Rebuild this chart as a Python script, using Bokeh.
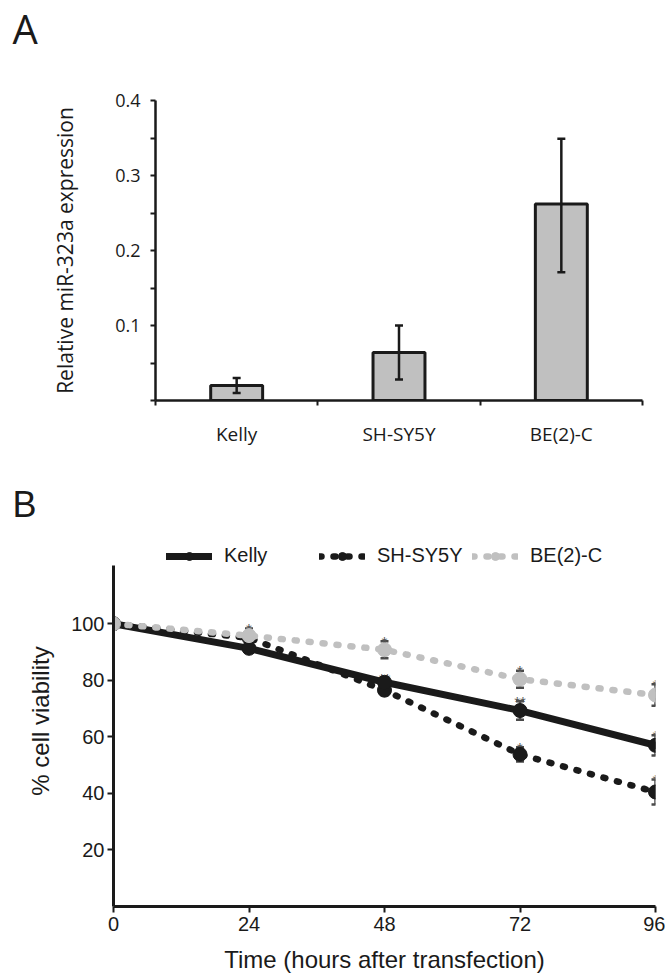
import numpy as np
from bokeh.plotting import figure
from bokeh.models import FixedTicker, Legend, LegendItem, Range1d, Title
from bokeh.embed import file_html
from bokeh.resources import INLINE
from bokeh.core.properties import value

# ---------------- Panel A data ----------------
cell_lines = ["Kelly", "SH-SY5Y", "BE(2)-C"]
expr_mean = [0.020, 0.064, 0.262]
expr_low = [0.010, 0.028, 0.171]
expr_high = [0.030, 0.100, 0.349]
expr_ticks = [0.1, 0.2, 0.3, 0.4]
expr_minor = [0.0, 0.05, 0.15, 0.25, 0.35]

# ---------------- Panel B data ----------------
hours = [0, 24, 48, 72, 96]
kelly_via = [100, 91.3, 79.3, 69.3, 57.0]
kelly_err = [0, 1.0, 1.5, 3.3, 3.6]
kelly_sig = ["", "", "**", "**", "*"]
sh_via = [100, 95.0, 76.5, 53.8, 40.5]
sh_err = [0, 1.0, 1.8, 2.5, 4.4]
sh_sig = ["", "", "", "*", "*"]
be_via = [100, 95.8, 90.8, 80.4, 74.8]
be_err = [0, 2.5, 3.0, 3.0, 3.8]
be_sig = ["", "*", "*", "*", "*"]
via_ticks = [20, 40, 60, 80, 100]
hour_ticks = [0, 24, 48, 72, 96]
via_axis_top = 120.6

INK = "#1a1a1a"
GREY = "#c0c0c0"
ERR = "#4a4a4a"
FA = "Open Sans"
FB = "Liberation Sans"

# ================= Panel A =================
pos = [i + 0.5 for i in range(len(cell_lines))]
bounds = [float(i) for i in range(len(cell_lines) + 1)]

pA = figure(width=665, height=470, x_range=Range1d(0, len(cell_lines)), y_range=Range1d(0, 0.4),
            output_backend="svg", toolbar_location=None,
            min_border_left=155, min_border_right=23, min_border_top=100, min_border_bottom=70)
pA.outline_line_color = None
pA.xgrid.visible = False
pA.ygrid.visible = False
# panel letter (outer) + spacer title next to the frame
pA.title.text = "A"
pA.title.align = "left"
pA.title.vertical_align = "top"
pA.title.offset = -143
pA.title.standoff = 0
pA.title.text_font = FA
pA.title.text_font_size = "40px"
pA.title.text_font_style = "normal"
pA.title.text_color = INK
pA.add_layout(Title(text=" ", text_font_size="13px", standoff=26), "above")

pA.vbar(x=pos, top=expr_mean, width=0.32, fill_color=GREY, line_color=INK, line_width=3)
pA.segment(x0=pos, y0=expr_low, x1=pos, y1=expr_high, line_color=INK, line_width=2.5)
pA.scatter(x=pos, y=expr_low, marker="dash", size=8, line_color=INK, line_width=2.5)
pA.scatter(x=pos, y=expr_high, marker="dash", size=8, line_color=INK, line_width=2.5)

xa = pA.xaxis[0]
xa.ticker = FixedTicker(ticks=pos, minor_ticks=bounds)
xa.major_label_overrides = {p: c for p, c in zip(pos, cell_lines)}
xa.major_tick_line_color = None
xa.minor_tick_in = 0
xa.minor_tick_out = 5
xa.minor_tick_line_width = 2
xa.minor_tick_line_color = INK
xa.axis_line_width = 2.5
xa.axis_line_color = INK
xa.major_label_text_font = FA
xa.major_label_text_font_size = "19px"
xa.major_label_text_color = INK
xa.major_label_standoff = 14

ya = pA.yaxis[0]
ya.ticker = FixedTicker(ticks=expr_ticks, minor_ticks=expr_minor)
ya.major_tick_in = 0
ya.major_tick_out = 5
ya.minor_tick_in = 0
ya.minor_tick_out = 5
ya.major_tick_line_width = 2
ya.minor_tick_line_width = 2
ya.major_tick_line_color = INK
ya.minor_tick_line_color = INK
ya.axis_line_width = 2.5
ya.axis_line_color = INK
ya.major_label_text_font = FA
ya.major_label_text_font_size = "18px"
ya.major_label_text_color = INK
ya.major_label_standoff = 10
ya.axis_label = "Relative miR-323a expression"
ya.axis_label_text_font = FA
ya.axis_label_text_font_size = "21px"
ya.axis_label_text_font_style = "normal"
ya.axis_label_text_color = INK
ya.axis_label_standoff = 33

# ================= Panel B =================
pB = figure(width=665, height=509, x_range=Range1d(0, 96), y_range=Range1d(0, 131.2),
            output_backend="svg", toolbar_location=None,
            min_border_left=113, min_border_right=10, min_border_top=65, min_border_bottom=73)
pB.outline_line_color = None
pB.xgrid.visible = False
pB.ygrid.visible = False
pB.title.text = "B"
pB.title.align = "left"
pB.title.offset = -101
pB.title.standoff = 21
pB.title.text_font = FB
pB.title.text_font_size = "36px"
pB.title.text_font_style = "normal"
pB.title.text_color = INK

series = [
    (sh_via, sh_err, sh_sig, INK, "2 12", "SH-SY5Y"),
    (kelly_via, kelly_err, kelly_sig, INK, "solid", "Kelly"),
    (be_via, be_err, be_sig, GREY, "2 12", "BE(2)-C"),
]

for via, err, sig, col, dash, name in series:
    lo = [v - e for v, e in zip(via, err)]
    hi = [v + e for v, e in zip(via, err)]
    pB.segment(x0=hours, y0=lo, x1=hours, y1=hi, line_color=ERR, line_width=2.5)
    pB.scatter(x=hours, y=lo, marker="dash", size=8, line_color=ERR, line_width=2.5)
    pB.scatter(x=hours, y=hi, marker="dash", size=8, line_color=ERR, line_width=2.5)
    pB.text(x=hours, y=hi, text=sig, text_font=value(FB), text_font_size="15px",
            text_align="center", text_baseline="alphabetic", text_color="#555555")

items = {}
for via, err, sig, col, dash, name in series:
    lr = pB.line(x=hours, y=via, line_color=col, line_width=7 if dash == "solid" else 6.5,
                 line_dash=dash, line_cap="round")
    sr = pB.scatter(x=hours, y=via, marker="circle", size=14, fill_color=col, line_color=col)
    items[name] = [lr, sr]

legend = Legend(items=[LegendItem(label=n, renderers=items[n]) for n in ["Kelly", "SH-SY5Y", "BE(2)-C"]],
                orientation="horizontal", location=(53, 339), glyph_width=46, glyph_height=20,
                label_standoff=12, spacing=0, label_width=95, padding=0, margin=0,
                border_line_color=None, background_fill_alpha=0,
                label_text_font=FB, label_text_font_size="20px", label_text_color=INK)
pB.add_layout(legend)

xb = pB.xaxis[0]
xb.ticker = FixedTicker(ticks=hour_ticks, minor_ticks=[])
xb.major_tick_in = 0
xb.major_tick_out = 6
xb.major_tick_line_width = 2
xb.major_tick_line_color = INK
xb.axis_line_width = 3
xb.axis_line_color = INK
xb.major_label_text_font = FB
xb.major_label_text_font_size = "20px"
xb.major_label_text_color = INK
xb.major_label_standoff = 4
xb.axis_label = "Time (hours after transfection)"
xb.axis_label_text_font = FB
xb.axis_label_text_font_size = "24px"
xb.axis_label_text_font_style = "normal"
xb.axis_label_text_color = INK
xb.axis_label_standoff = 12

yb = pB.yaxis[0]
yb.bounds = (0, via_axis_top)
yb.ticker = FixedTicker(ticks=via_ticks, minor_ticks=[])
yb.major_tick_in = 0
yb.major_tick_out = 6
yb.major_tick_line_width = 2
yb.major_tick_line_color = INK
yb.axis_line_width = 3
yb.axis_line_color = INK
yb.major_label_text_font = FB
yb.major_label_text_font_size = "20px"
yb.major_label_text_color = INK
yb.major_label_standoff = 3
yb.axis_label = "% cell viability"
yb.axis_label_text_font = FB
yb.axis_label_text_font_size = "24px"
yb.axis_label_text_font_style = "normal"
yb.axis_label_text_color = INK
yb.axis_label_standoff = 14

open("out.html", "w").write(file_html([pA, pB], INLINE))
